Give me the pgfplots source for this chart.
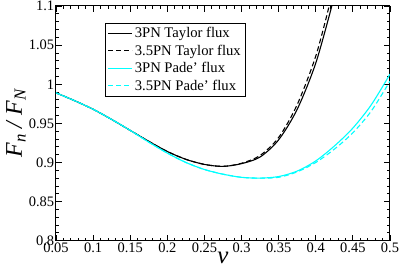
\documentclass[border=0pt]{standalone}
\usepackage{fontspec}
\setmainfont{Liberation Serif}
\usepackage{pgfplots}
\pgfplotsset{compat=1.18}
\definecolor{gcyan}{RGB}{0,255,255}
\begin{document}
\begin{tikzpicture}
\begin{axis}[
  scale only axis, width=334bp, height=234.7bp,
  xmin=0.05, xmax=0.5, ymin=0.8, ymax=1.1,
  xtick={0.05,0.1,0.15,0.2,0.25,0.3,0.35,0.4,0.45,0.5},
  xticklabels={0.05,0.1,0.15,0.2,0.25,0.3,0.35,0.4,0.45,0.5},
  ytick={0.8,0.85,0.9,0.95,1,1.05,1.1},
  yticklabels={0.8,0.85,0.9,0.95,1,1.05,1.1},
  minor x tick num=4, minor y tick num=4,
  tick align=inside, major tick length=6bp, minor tick length=3bp,
  axis line style={line width=1bp},
  every tick/.style={black, line width=0.8bp},
  tick label style={font=\fontsize{14.5}{14.5}\selectfont},
  xticklabel style={yshift=1.4bp},
  yticklabel style={xshift=1.7bp},
  /pgf/number format/assume math mode=true,
  xlabel={\itshape ν},
  xlabel style={font=\fontsize{25}{25}\selectfont, at={(axis description cs:0.5,0)}, anchor=center, yshift=-17bp},
  ylabel={\itshape F\textsubscript{n} / F\textsubscript{N}},
  ylabel style={font=\fontsize{24}{24}\selectfont, at={(axis description cs:-0.12,0.5)}, anchor=center},
  legend style={at={(0.147,0.929)}, anchor=north west, draw=black, line width=0.8bp,
    font=\fontsize{14.7}{16}\selectfont, inner sep=2.2bp, row sep=1.8bp},
  legend cell align=left,
  legend image code/.code={\draw[#1] (0bp,0bp) -- (15bp,0bp); \path (0bp,0bp) -- (24bp,0bp);},
  clip=true,
]
\addplot[black, line width=1.1bp, smooth] coordinates {
(0.05,0.989) (0.075,0.979) (0.10,0.968) (0.125,0.955) (0.15,0.941) (0.175,0.927)
(0.20,0.914) (0.225,0.904) (0.25,0.8975) (0.275,0.895) (0.30,0.8985) (0.325,0.907)
(0.35,0.929) (0.375,0.968) (0.40,1.027) (0.4216,1.100)
};
\addlegendentry{3PN Taylor flux}
\addplot[black, line width=1.1bp, dash pattern=on 5bp off 3bp, smooth] coordinates {
(0.05,0.989) (0.075,0.979) (0.10,0.968) (0.125,0.955) (0.15,0.941) (0.175,0.927)
(0.20,0.914) (0.225,0.904) (0.25,0.8975) (0.275,0.895) (0.30,0.899) (0.325,0.909)
(0.35,0.932) (0.375,0.974) (0.40,1.036) (0.418,1.100)
};
\addlegendentry{3.5PN Taylor flux}
\addplot[gcyan, line width=1.1bp, smooth] coordinates {
(0.05,0.989) (0.075,0.979) (0.10,0.968) (0.125,0.955) (0.15,0.941) (0.175,0.926)
(0.20,0.912) (0.225,0.900) (0.25,0.891) (0.275,0.885) (0.30,0.881) (0.325,0.880)
(0.35,0.882) (0.375,0.889) (0.40,0.902) (0.425,0.921) (0.45,0.944) (0.475,0.974) (0.50,1.013)
};
\addlegendentry{3PN Pade' flux}
\addplot[gcyan, line width=1.1bp, dash pattern=on 5bp off 3bp, smooth] coordinates {
(0.05,0.989) (0.075,0.979) (0.10,0.968) (0.125,0.955) (0.15,0.941) (0.175,0.926)
(0.20,0.912) (0.225,0.900) (0.25,0.891) (0.275,0.885) (0.30,0.881) (0.325,0.880)
(0.35,0.881) (0.375,0.888) (0.40,0.900) (0.425,0.917) (0.45,0.938) (0.475,0.966) (0.50,1.004)
};
\addlegendentry{3.5PN Pade' flux}
\end{axis}
\pgfresetboundingbox
\path ([xshift=-56bp,yshift=-27.3bp]current axis.south west) rectangle ([xshift=9bp,yshift=6bp]current axis.north east);
\end{tikzpicture}
\end{document}
